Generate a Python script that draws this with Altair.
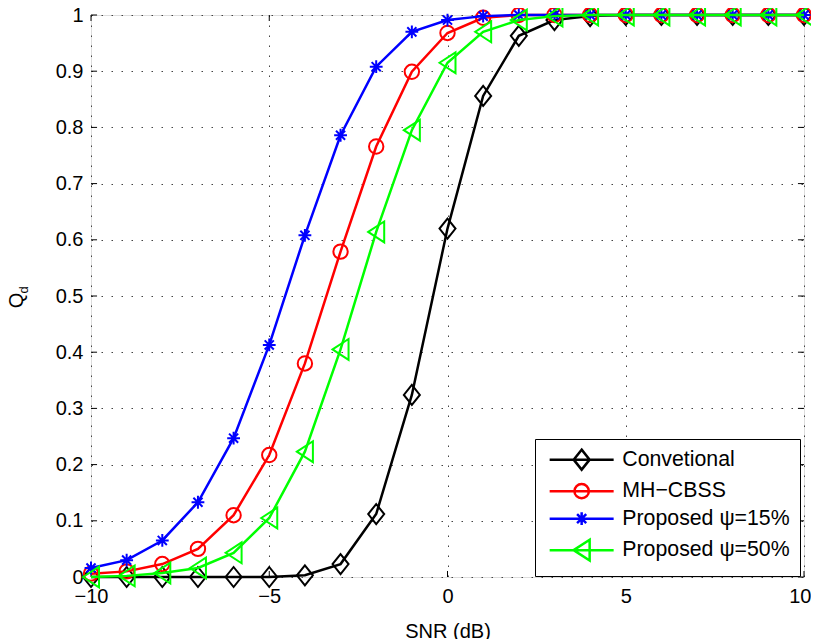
import altair as alt
import pandas as pd

# ---- data ----
snr = list(range(-10, 11))
conventional = [0, 0, 0, 0, 0, 0, 0.003, 0.023, 0.112, 0.324, 0.620, 0.856, 0.963, 0.991, 0.998, 1, 1, 1, 1, 1, 1]
mh_cbss = [0.006, 0.010, 0.023, 0.050, 0.110, 0.217, 0.380, 0.579, 0.766, 0.899, 0.968, 0.995, 1, 1, 1, 1, 1, 1, 1, 1, 1]
proposed15 = [0.016, 0.030, 0.065, 0.133, 0.247, 0.413, 0.608, 0.786, 0.908, 0.970, 0.991, 0.998, 1, 1, 1, 1, 1, 1, 1, 1, 1]
proposed50 = [0, 0.002, 0.007, 0.016, 0.043, 0.105, 0.223, 0.405, 0.614, 0.795, 0.915, 0.970, 0.991, 0.998, 1, 1, 1, 1, 1, 1, 1]

series_names = ["Convetional", "MH\u2212CBSS", "Proposed \u03c8=15%", "Proposed \u03c8=50%"]
series_values = [conventional, mh_cbss, proposed15, proposed50]
colors = ["#000000", "#ff0000", "#0000ff", "#00ff00"]

x_ticks = [-10, -5, 0, 5, 10]
y_ticks = [0, 0.1, 0.2, 0.3, 0.4, 0.5, 0.6, 0.7, 0.8, 0.9, 1]

# marker shapes (unit box, size 256 -> r = 8px)
diamond = "M0,-1.25L1,0L0,1.25L-1,0Z"
circle = "M0.9,0A0.9,0.9,0,1,1,-0.9,0A0.9,0.9,0,1,1,0.9,0Z"
asterisk = "M-0.8,0L0.8,0M0,-0.8L0,0.8M-0.57,-0.57L0.57,0.57M-0.57,0.57L0.57,-0.57"
triangle = "M-1,0L1,-1.3L1,1.3Z"
markers = [diamond, circle, asterisk, triangle]
legend_shapes = ["M-4,0L4,0" + m for m in markers]

FONT = "Liberation Sans"

rows = []
for name, vals in zip(series_names, series_values):
    for xv, yv in zip(snr, vals):
        rows.append({"snr": xv, "qd": yv, "series": name})
df = pd.DataFrame(rows)

xenc = alt.X(
    "snr:Q",
    scale=alt.Scale(domain=[-10, 10], nice=False, zero=False),
    axis=alt.Axis(
        values=x_ticks, format="d", title="SNR (dB)", grid=True, domain=False,
        ticks=False, labelFlush=False, labelPadding=9, labelFontSize=20, labelFont=FONT, labelColor="#000",
        labelAlign={"condition": {"test": "datum.value == 10", "value": "right"}, "value": "center"},
        labelOffset={"condition": {"test": "datum.value == 10", "value": 7}, "value": 0},
        titleFontSize=20, titleFont=FONT, titleFontWeight="normal", titleColor="#000",
        titleBaseline="alphabetic", titleY=60,
        gridColor="#444", gridDash=[1.5, 8.5], gridWidth=1,
    ),
)
yenc = alt.Y(
    "qd:Q",
    scale=alt.Scale(domain=[0, 1], nice=False),
    axis=alt.Axis(
        values=y_ticks, title="Q", grid=True, domain=False, ticks=False, labelFlush=False,
        labelExpr="datum.value == 0 ? '0' : datum.value == 1 ? '1' : format(datum.value, '.1f')",
        labelPadding=8, labelFontSize=20, labelFont=FONT, labelColor="#000",
        titleFontSize=20, titleFont=FONT, titleFontWeight="normal", titleColor="#000",
        titleAngle=270, titleBaseline="alphabetic", titleAlign="center", titleX=-69, titleY=285,
        gridColor="#444", gridDash=[1.5, 8.5], gridWidth=1,
    ),
)

# inward tick marks on all four sides
tx = 0.17   # x-units ~ 6px
ty = 0.0107  # y-units ~ 6px
tick_rows = []
for t in x_ticks:
    tick_rows.append({"snr": t, "snr2": t, "qd": 0, "qd2": ty})
    tick_rows.append({"snr": t, "snr2": t, "qd": 1 - ty, "qd2": 1})
for t in y_ticks:
    tick_rows.append({"snr": -10, "snr2": -10 + tx, "qd": t, "qd2": t})
    tick_rows.append({"snr": 10 - tx, "snr2": 10, "qd": t, "qd2": t})
ticks = alt.Chart(pd.DataFrame(tick_rows)).mark_rule(color="#000", strokeWidth=1).encode(
    x=xenc, x2="snr2:Q", y=yenc, y2="qd2:Q"
)

layers = [ticks]
for name, c, m in zip(series_names, colors, markers):
    base = alt.Chart(df).transform_filter(alt.datum.series == name)
    layers.append(base.mark_line(color=c, strokeWidth=2.5).encode(x=xenc, y=yenc))
    layers.append(
        base.mark_point(shape=m, size=256, color=c, strokeWidth=2, filled=False, opacity=1).encode(x=xenc, y=yenc)
    )

leg = alt.Legend(
    title=None, orient="none", legendX=444, legendY=424, padding=10,
    strokeColor="#000", fillColor="#fff", symbolOffset=26, labelOffset=30,
    labelFontSize=21.3, labelFont=FONT, labelColor="#000", labelLimit=400, rowPadding=3.5,
    symbolSize=256, symbolStrokeWidth=2.5, symbolFillColor="transparent",
)
legend_layer = alt.Chart(df).transform_filter("datum.qd > 5").mark_point(
    size=256, strokeWidth=2.5, filled=False, opacity=1
).encode(
    x=xenc, y=yenc,
    color=alt.Color("series:N", scale=alt.Scale(domain=series_names, range=colors), legend=leg, sort=series_names),
    shape=alt.Shape("series:N", scale=alt.Scale(domain=series_names, range=legend_shapes), legend=leg, sort=series_names),
)
layers.append(legend_layer)

sub = alt.Chart(pd.DataFrame({"t": ["d"]})).mark_text(
    text="d", font=FONT, fontSize=13, angle=270, align="center", baseline="alphabetic", color="#000"
).encode(x=alt.value(-63), y=alt.value(275))
layers.append(sub)

chart = alt.layer(*layers).properties(
    width=713, height=562,
    autosize=alt.AutoSizeParams(type="none"),
    padding={"left": 83, "top": 7, "right": 7, "bottom": 62},
).configure_view(stroke="#000", strokeWidth=1).configure(font=FONT)

chart.save("out.html", embed_options={"renderer": "svg", "actions": False})
